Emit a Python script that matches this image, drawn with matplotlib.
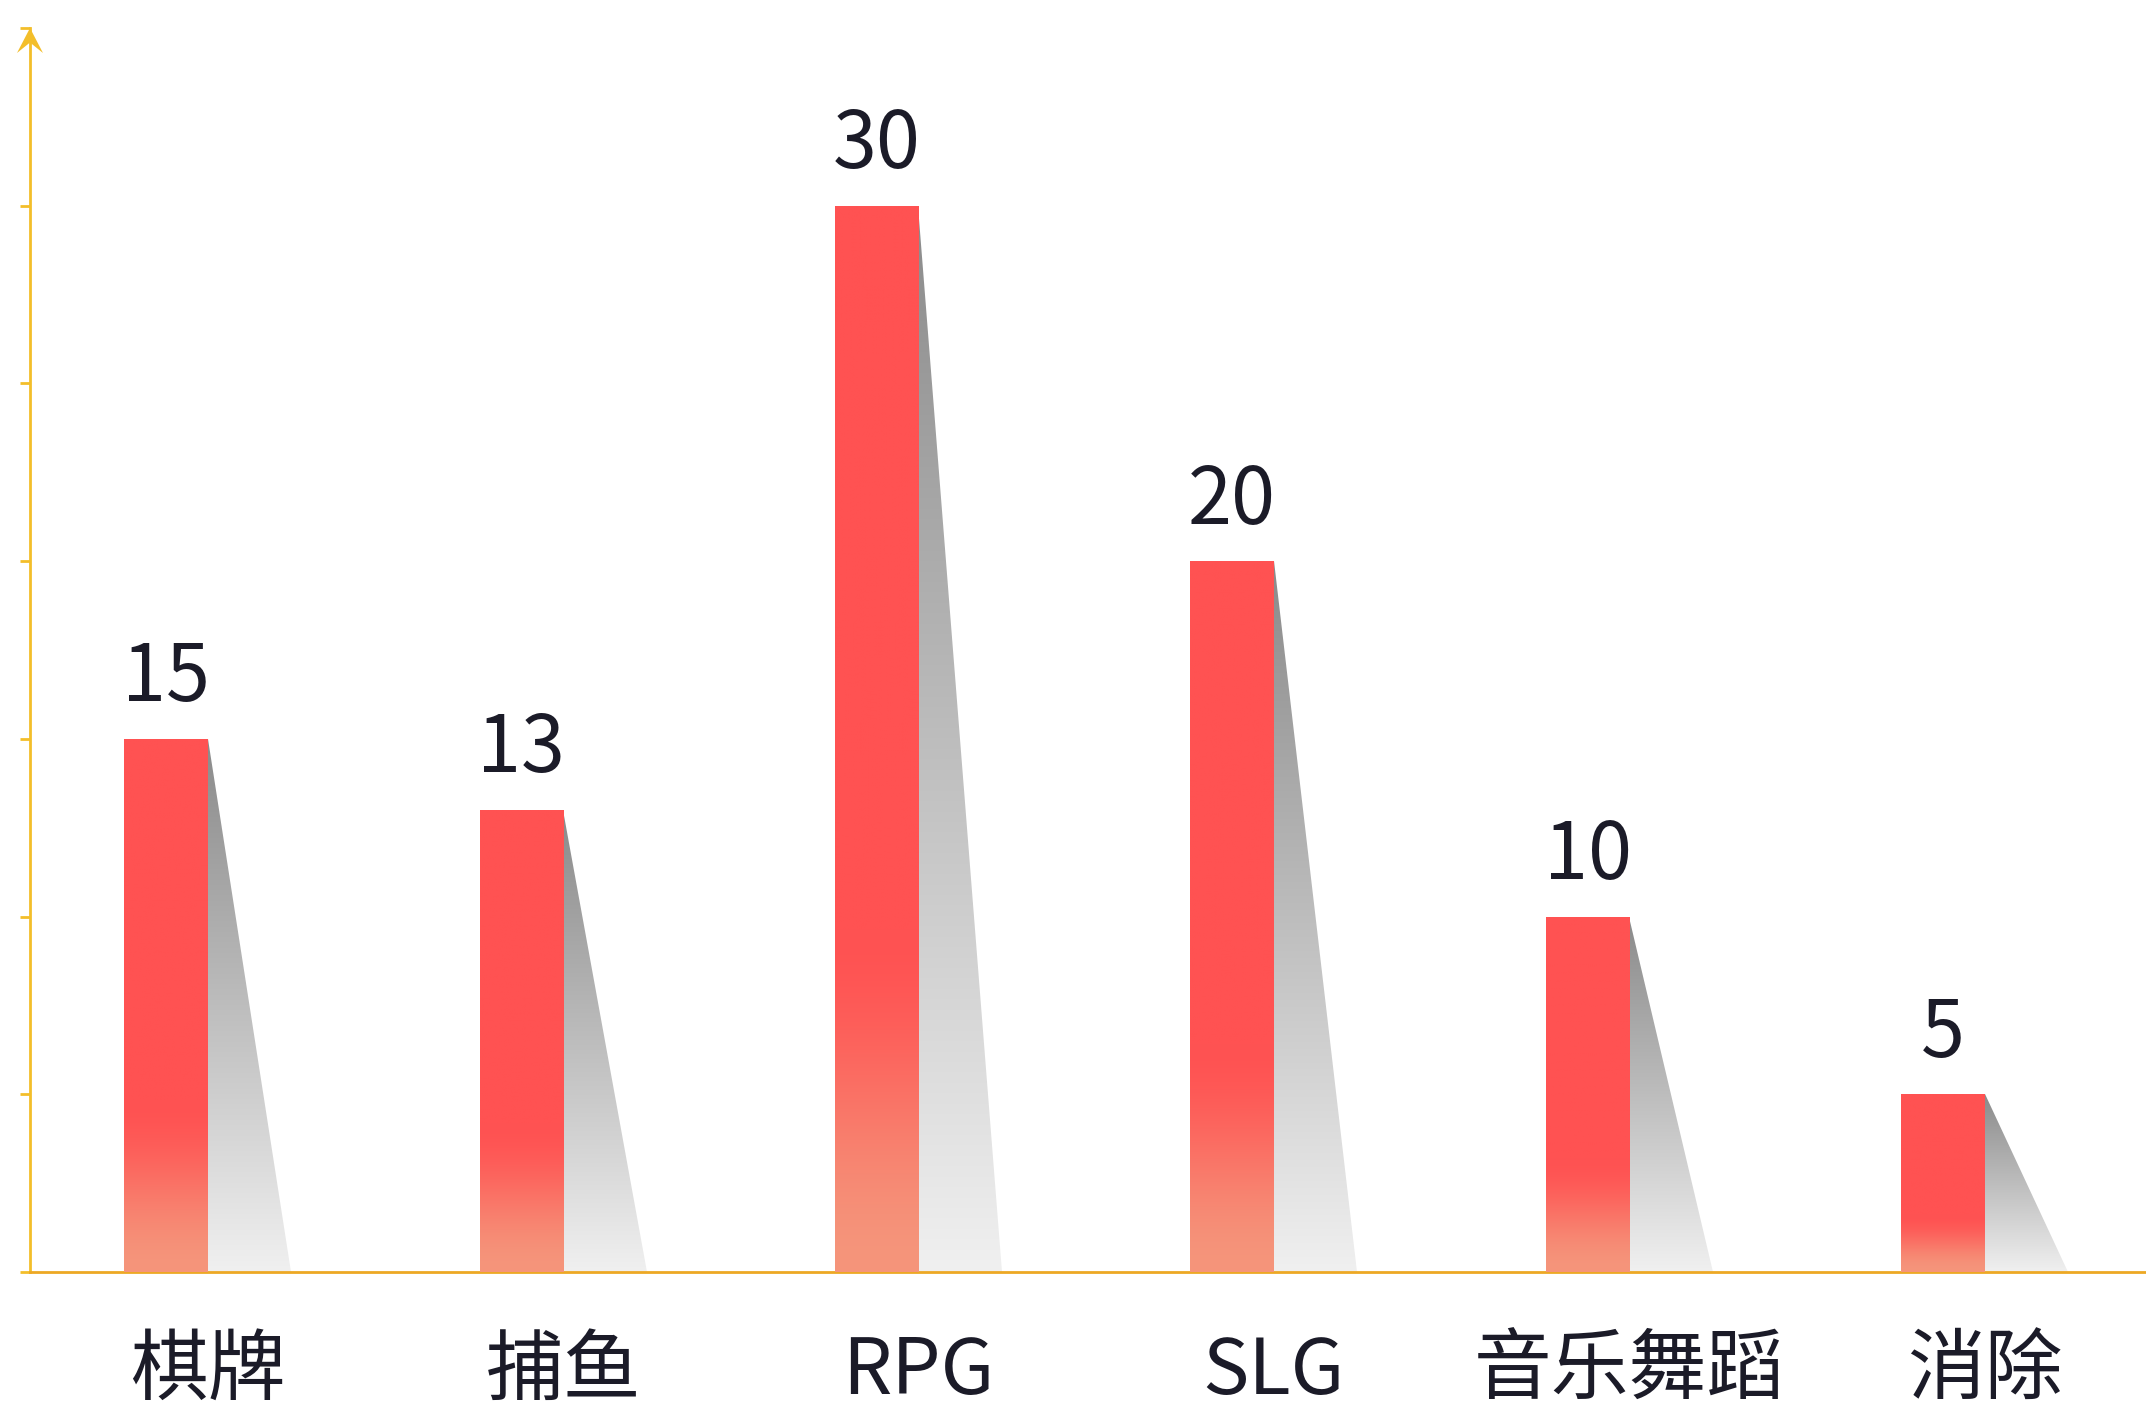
import numpy as np
import matplotlib
matplotlib.use("Agg")
import matplotlib.pyplot as plt
from matplotlib.patches import Polygon
from matplotlib.colors import to_rgb
import matplotlib.transforms as mtransforms

plt.rcParams['font.family'] = ['Noto Sans CJK SC', 'DejaVu Sans']

categories = ['棋牌', '捕鱼', 'RPG', 'SLG', '音乐舞蹈', '消除']
values = [15, 13, 30, 20, 10, 5]
y_ticks = [0, 5, 10, 15, 20, 25, 30, 35]

AXIS_COLOR = '#F3BE2A'
TEXT_COLOR = '#1B1B28'
BAR_TOP = to_rgb('#FF5252')
BAR_BOTTOM = to_rgb('#F5957B')
SHADOW_TOP = to_rgb('#8A8A8A')
SHADOW_BOTTOM = to_rgb('#F0F0F0')
BAR_W = 0.235

fig = plt.figure(figsize=(21.46, 14.08), dpi=100)
ax = fig.add_axes([30 / 2146, 136 / 1408, (2146 - 30) / 2146, (1272 - 28) / 1408])
ax.set_xlim(-0.5, 5.454)
ax.set_ylim(0, 35)

xs = np.arange(len(categories))

def bar_gradient(n=400):
    t = np.linspace(0, 1, n)[:, None]           # 0 = bottom, 1 = top
    s = np.clip(t / 0.32, 0, 1)
    s = s * s * (3 - 2 * s)
    rgb = np.array(BAR_BOTTOM) * (1 - s) + np.array(BAR_TOP) * s
    return rgb[::-1][:, None, :].repeat(2, axis=1)

def shadow_gradient(n=400):
    t = np.linspace(0, 1, n)[:, None]
    rgb = np.array(SHADOW_BOTTOM) * (1 - t) + np.array(SHADOW_TOP) * t
    return rgb[::-1][:, None, :].repeat(2, axis=1)

bars = ax.bar(xs - BAR_W / 2, values, width=BAR_W, color='none', edgecolor='none', zorder=3)
for x, v, b in zip(xs, values, bars):
    # red bar with soft lighter base
    im = ax.imshow(bar_gradient(), extent=(x - BAR_W, x, 0, v), aspect='auto',
                   interpolation='bilinear', zorder=3)
    im.set_clip_path(b)
    # slanted shadow to the right of the bar
    tri = Polygon([(x, v), (x, 0), (x + BAR_W, 0)], closed=True,
                  facecolor='none', edgecolor='none', zorder=2)
    ax.add_patch(tri)
    sh = ax.imshow(shadow_gradient(), extent=(x, x + BAR_W, 0, v), aspect='auto',
                   interpolation='bilinear', zorder=2)
    sh.set_clip_path(tri)
    ax.annotate(f'{v}', xy=(x - BAR_W / 2, v), xytext=(0, 27), textcoords='offset points',
                ha='center', va='baseline', fontsize=57, color=TEXT_COLOR, zorder=5)

for x, c in zip(xs, categories):
    ax.annotate(c, xy=(x, 0), xytext=(0, -72), textcoords='offset points',
                ha='center', va='center', fontsize=56, color=TEXT_COLOR,
                annotation_clip=False)

# axes styling
for side in ('top', 'right'):
    ax.spines[side].set_visible(False)
ax.spines['left'].set_color(AXIS_COLOR)
ax.spines['left'].set_linewidth(2)
ax.spines['bottom'].set_color('#EDA824')
ax.spines['bottom'].set_linewidth(2)
ax.set_yticks(y_ticks)
ax.set_yticklabels([])
ax.tick_params(axis='y', direction='out', length=7, width=2, color=AXIS_COLOR)
ax.set_xticks([])
ax.set_xlim(-0.5, 5.454)
ax.set_ylim(0, 35)

# arrow head on the value axis
arrow_tf = fig.dpi_scale_trans + mtransforms.ScaledTranslation(0, 1, ax.transAxes)
head = Polygon([(0, 0), (-0.13, -0.25), (0, -0.145), (0.13, -0.25)], closed=True,
               facecolor=AXIS_COLOR, edgecolor='none', transform=arrow_tf, clip_on=False, zorder=6)
ax.add_patch(head)

fig.savefig('out.png', dpi=100, facecolor='white')
